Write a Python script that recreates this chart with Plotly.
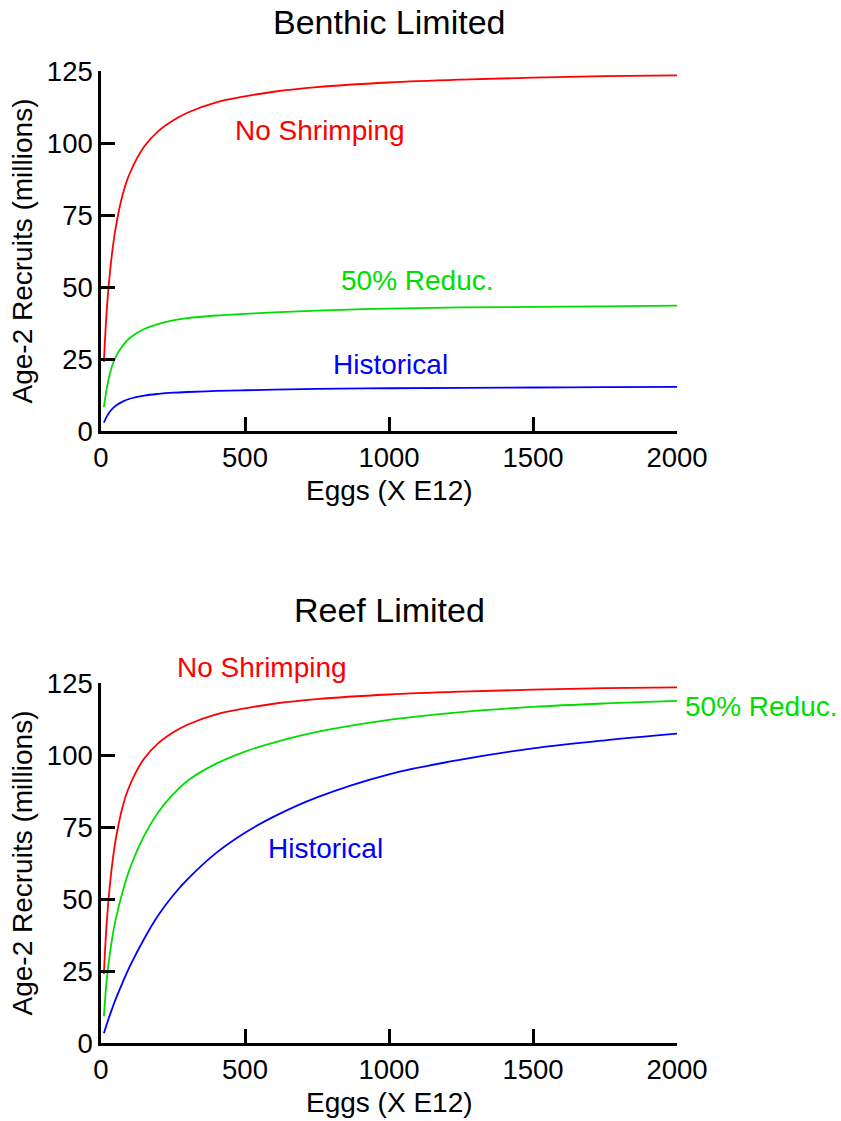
import plotly.graph_objects as go
from plotly.subplots import make_subplots

# ---- data ----
eggs = [10, 20, 30, 40, 50, 75, 100, 150, 200, 250, 300, 400, 500, 600, 750,
        1000, 1250, 1500, 1750, 2000]

benthic_no_shrimp = [24.0, 42, 54, 63, 70, 82, 89.5, 98.8, 104.2, 107.8, 110.5, 114.1, 116.2,
                     117.8, 119.4, 121.0, 122.0, 122.7, 123.2, 123.5]
benthic_50_reduc = [8.3, 14.8, 19.6, 23.0, 25.5, 29.6, 32.3, 35.4, 37.2, 38.4, 39.2, 40.1, 40.7,
                    41.2, 41.8, 42.5, 42.9, 43.1, 43.3, 43.5]
benthic_historical = [2.9, 5.0, 6.6, 7.8, 8.7, 10.2, 11.2, 12.3, 12.9, 13.3, 13.55, 13.9, 14.15,
                      14.35, 14.6, 14.85, 15.0, 15.1, 15.2, 15.3]

reef_no_shrimp = [24.0, 42, 54, 63, 70, 82, 89.5, 98.8, 104.2, 107.8, 110.5, 114.1, 116.2,
                  117.8, 119.4, 121.0, 122.0, 122.7, 123.2, 123.5]
reef_50_reduc = [9.3, 22, 30.5, 37, 42.5, 52.5, 60.5, 72.0, 80.3, 86.3, 91.0, 97.0, 101.2,
                 104.3, 108.0, 112.2, 114.9, 116.7, 117.9, 118.8]
reef_historical = [3.4, 6.5, 9.5, 12.3, 15.0, 21.0, 26.6, 36.2, 44.5, 51.2, 56.8, 66.0, 73.0,
                   78.6, 85.3, 93.3, 98.4, 102.3, 105.1, 107.4]

panel_titles = ["Benthic Limited", "Reef Limited"]
x_title = "Eggs (X E12)"
y_title = "Age-2 Recruits (millions)"
x_ticks = [0, 500, 1000, 1500, 2000]
y_ticks = [0, 25, 50, 75, 100, 125]

RED = "#ff0000"
GREEN = "#00dd00"
BLUE = "#0000ff"
FONT = "Liberation Sans, Arial, sans-serif"

W, H = 841, 1121
ml, mr, mt, mb = 101, 164, 71, 78
plot_h = H - mt - mb

fig = make_subplots(rows=2, cols=1)
top_dom = [(1043 - 431) / plot_h, 1.0]
bot_dom = [0.0, (1043 - 683) / plot_h]

panels = [
    (benthic_no_shrimp, benthic_50_reduc, benthic_historical),
    (reef_no_shrimp, reef_50_reduc, reef_historical),
]
for i, (a, b, c) in enumerate(panels, start=1):
    for ys, col in [(a, RED), (b, GREEN), (c, BLUE)]:
        fig.add_trace(go.Scatter(x=eggs, y=ys, mode="lines",
                                 line=dict(color=col, width=1.8, shape="spline", smoothing=1.0),
                                 showlegend=False, hoverinfo="skip", cliponaxis=False),
                      row=i, col=1)

axis_common = dict(showline=True, linecolor="black", linewidth=2.5, ticks="inside",
                   ticklen=14, tickwidth=2.5, tickcolor="black", showgrid=False,
                   zeroline=False, mirror=False,
                   tickfont=dict(family=FONT, size=27.5, color="black"))

fig.update_xaxes(range=[0, 2000], tickvals=x_ticks, **axis_common)
fig.update_yaxes(range=[0, 125], tickvals=y_ticks, **axis_common)
fig.update_layout(yaxis=dict(domain=top_dom), yaxis2=dict(domain=bot_dom),
                  xaxis=dict(anchor="y"), xaxis2=dict(anchor="y2"))

ann = []
for i, t in enumerate(panel_titles):
    xs = "x" if i == 0 else "x2"
    ys = "y" if i == 0 else "y2"
    ann.append(dict(text=t, xref=f"{xs} domain", yref=f"{ys} domain", x=0.5,
                    y=1.136 if i == 0 else 1.203, showarrow=False,
                    font=dict(family=FONT, size=34, color="black"),
                    xanchor="center", yanchor="middle"))
    ann.append(dict(text=x_title, xref=f"{xs} domain", yref=f"{ys} domain", x=0.5, y=-0.164,
                    showarrow=False, font=dict(family=FONT, size=28, color="black"),
                    xanchor="center", yanchor="middle"))
    ann.append(dict(text=y_title, xref=f"{xs} domain", yref=f"{ys} domain", x=-0.138, y=0.5,
                    textangle=-90, showarrow=False, font=dict(family=FONT, size=28, color="black"),
                    xanchor="center", yanchor="middle"))

# curve labels: (text, x, y, colour, xref, yref, xanchor)
labels = [
    ("No Shrimping", 0.380, 0.836, RED, "x domain", "y domain", "center"),
    ("50% Reduc.", 0.549, 0.417, GREEN, "x domain", "y domain", "center"),
    ("Historical", 0.503, 0.186, BLUE, "x domain", "y domain", "center"),
    ("No Shrimping", 0.2795, 1.044, RED, "x2 domain", "y2 domain", "center"),
    ("50% Reduc.", 1.010, 0.936, GREEN, "x2 domain", "y2 domain", "left"),
    ("Historical", 0.390, 0.539, BLUE, "x2 domain", "y2 domain", "center"),
]
for t, x, y, col, xr, yr, xa in labels:
    ann.append(dict(text=t, x=x, y=y, xref=xr, yref=yr, showarrow=False,
                    font=dict(family=FONT, size=28, color=col),
                    xanchor=xa, yanchor="middle"))

fig.update_layout(width=W, height=H, margin=dict(l=ml, r=mr, t=mt, b=mb),
                  plot_bgcolor="white", paper_bgcolor="white", annotations=ann)

fig.write_html("out.html")
